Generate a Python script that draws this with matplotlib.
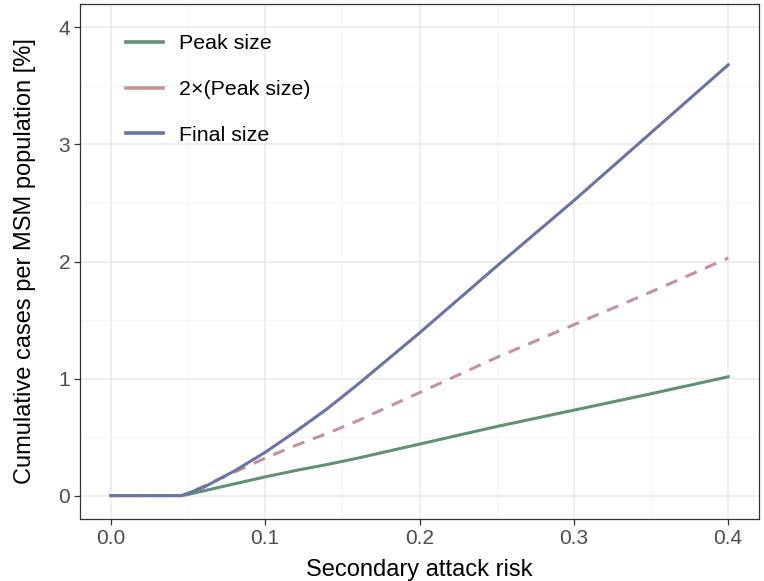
import matplotlib
matplotlib.use("Agg")
import matplotlib.pyplot as plt
from matplotlib.ticker import MultipleLocator, FormatStrFormatter

plt.rcParams['font.family'] = ['Liberation Sans', 'DejaVu Sans']

# secondary attack risk (x) and the two size curves
sar = [0.0, 0.01, 0.02, 0.03, 0.04, 0.046, 0.05, 0.06, 0.07, 0.08, 0.09, 0.10,
       0.12, 0.14, 0.16, 0.18, 0.20, 0.25, 0.30, 0.35, 0.40]
peak_size = [0, 0, 0, 0, 0, 0, 0.01, 0.04, 0.07, 0.10, 0.13, 0.16,
             0.215, 0.265, 0.32, 0.38, 0.44, 0.59, 0.73, 0.87, 1.015]
final_size = [0, 0, 0, 0, 0, 0, 0.02, 0.07, 0.14, 0.21, 0.29, 0.37,
              0.55, 0.74, 0.95, 1.17, 1.39, 1.96, 2.52, 3.10, 3.68]
double_peak = [2 * v for v in peak_size]

col_peak = '#5e9272'
col_double = '#c3929b'
col_final = '#6a73a8'

fig = plt.figure(figsize=(7.64, 5.81), dpi=100)
ax = fig.add_axes([0.1047, 0.1067, 0.8888, 0.8864])

lw = 2.2
ax.plot(sar, peak_size, color=col_peak, lw=lw, label='Peak size', zorder=3)
ax.plot(sar, double_peak, color=col_double, lw=lw, ls=(0, (4, 3)), label='2×(Peak size)', zorder=3)
ax.plot(sar, final_size, color=col_final, lw=lw, label='Final size', zorder=4)

ax.set_xlim(-0.02, 0.42)
ax.set_ylim(-0.2, 4.2)
ax.xaxis.set_major_locator(MultipleLocator(0.1))
ax.xaxis.set_minor_locator(MultipleLocator(0.05))
ax.yaxis.set_major_locator(MultipleLocator(1))
ax.yaxis.set_minor_locator(MultipleLocator(0.5))
ax.xaxis.set_major_formatter(FormatStrFormatter('%.1f'))
ax.yaxis.set_major_formatter(FormatStrFormatter('%d'))

ax.grid(which='major', color='#ebebeb', lw=1.1, zorder=0)
ax.grid(which='minor', color='#f2f2f2', lw=0.6, zorder=0)
ax.set_axisbelow(True)

for s in ax.spines.values():
    s.set_color('#333333')
    s.set_linewidth(0.9)
ax.tick_params(which='major', length=4.5, width=0.9, color='#333333',
               labelsize=15, labelcolor='#4d4d4d', pad=2.5)
ax.tick_params(which='minor', length=0)

ax.set_xlabel('Secondary attack risk', fontsize=17, labelpad=8)
ax.set_ylabel('Cumulative cases per MSM population [%]', fontsize=17, labelpad=16)

leg = ax.legend(loc='upper left', bbox_to_anchor=(0.04, 0.979), frameon=False,
                fontsize=15.4, handlelength=1.73, handletextpad=0.75, labelspacing=1.26)
for h in leg.get_lines():
    h.set_linestyle('-')
    h.set_linewidth(2.6)

fig.savefig('out.png', dpi=100)
